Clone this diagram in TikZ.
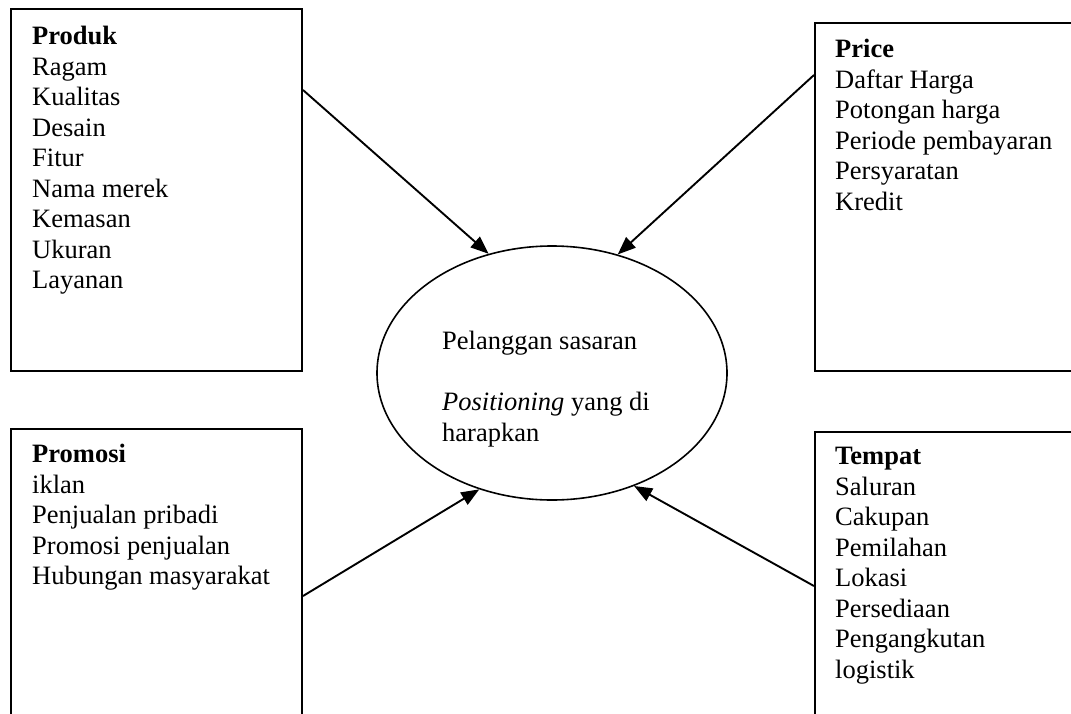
\documentclass[tikz,border=0pt]{standalone}
\usepackage{fontspec}
\setmainfont{Liberation Serif}
\usepackage{tikz}
\usetikzlibrary{arrows.meta,shapes.geometric}

\begin{document}
\begin{tikzpicture}[x=1pt,y=-1pt,
  kotak/.style={draw,line width=2pt,rectangle,inner sep=0pt,anchor=north west},
  isi/.style={anchor=north west,align=left,inner sep=0pt,font=\fontsize{26.5}{30.5}\selectfont},
  panah/.style={line width=1.9pt,-{Triangle[length=18pt,width=14pt]}}]
\useasboundingbox (0,0) rectangle (1071,713);
\clip (0,0) rectangle (1071,713);

\node[kotak,minimum width=291pt,minimum height=362pt] (produk) at (10,8) {};
\node[kotak,minimum width=300pt,minimum height=348pt] (price) at (814,22) {};
\node[kotak,minimum width=291pt,minimum height=300pt] (promosi) at (10,428) {};
\node[kotak,minimum width=300pt,minimum height=300pt] (tempat) at (814,431) {};
\node[draw,ellipse,line width=1.6pt,minimum width=350pt,minimum height=254pt,inner sep=0pt] (pusat) at (552,373) {};

\node[isi] (produkisi) at (32,26) {\textbf{Produk}\\Ragam\\Kualitas\\Desain\\Fitur\\Nama merek\\Kemasan\\Ukuran\\Layanan};
\node[isi] (priceisi) at (835,39) {\textbf{Price}\\Daftar Harga\\Potongan harga\\Periode pembayaran\\Persyaratan\\Kredit};
\node[isi] (promosiisi) at (32,444) {\textbf{Promosi}\\iklan\\Penjualan pribadi\\Promosi penjualan\\Hubungan masyarakat};
\node[isi] (tempatisi) at (835,447) {\textbf{Tempat}\\Saluran\\Cakupan\\Pemilahan\\Lokasi\\Persediaan\\Pengangkutan\\logistik};
\node[isi] (pusatisi) at (442,331) {Pelanggan sasaran\\[30.5pt]\textit{Positioning} yang di\\harapkan};

\draw[panah] (produk.east |- 0,90) -- (pusat.118.7);
\draw[panah] (price.west |- 0,75) -- (pusat.61.3);
\draw[panah] (promosi.east |- 0,596) -- (pusat.238.8);
\draw[panah] (tempat.west |- 0,586) -- (pusat.306);
\end{tikzpicture}
\end{document}
